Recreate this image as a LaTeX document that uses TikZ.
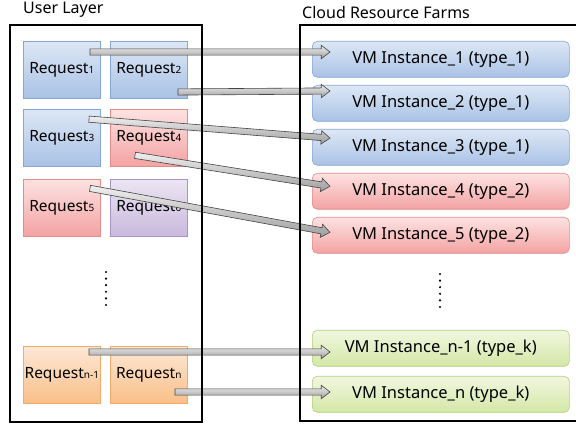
\documentclass[tikz,border=0pt]{standalone}
\usepackage{fontspec}
\setmainfont{Noto Sans}
\usetikzlibrary{shapes.arrows,calc}

\definecolor{bluetop}{HTML}{DDE7F5}
\definecolor{bluebot}{HTML}{A9C2E5}
\definecolor{blueline}{HTML}{86A6D6}
\definecolor{redtop}{HTML}{FDE2E2}
\definecolor{redbot}{HTML}{F4A2A2}
\definecolor{redline}{HTML}{E28C8C}
\definecolor{purptop}{HTML}{ECE5F3}
\definecolor{purpbot}{HTML}{C9B9DD}
\definecolor{purpline}{HTML}{A893C6}
\definecolor{orgtop}{HTML}{FDE8D6}
\definecolor{orgbot}{HTML}{F9BF88}
\definecolor{orgline}{HTML}{F2AB6B}
\definecolor{grntop}{HTML}{F1F7E0}
\definecolor{grnbot}{HTML}{D4E7A6}
\definecolor{grnline}{HTML}{B4CE7C}
\definecolor{arrline}{HTML}{444444}

\newcommand\sub[1]{{\fontsize{10}{10}\selectfont #1}}

% block arrow from one named point to another
\newcommand\blockarrow[2]{%
  \path let \p1=($(#2)-(#1)$), \n1={atan2(\y1,\x1)}, \n2={veclen(\x1,\y1)} in
    ($(#1)!0.5!(#2)$) node[flowarrow, rotate=\n1, minimum height=\n2] {};}

\tikzset{
  req/.style={rectangle, inner sep=0pt, minimum width=77pt, minimum height=57pt,
    anchor=north west, line width=0.6pt, font=\fontsize{15.5}{17}\selectfont},
  reqblue/.style={req, top color=bluetop, bottom color=bluebot, draw=blueline},
  reqred/.style={req, top color=redtop, bottom color=redbot, draw=redline},
  reqpurp/.style={req, top color=purptop, bottom color=purpbot, draw=purpline},
  reqorg/.style={req, top color=orgtop, bottom color=orgbot, draw=orgline},
  vm/.style={rectangle, rounded corners=5pt, inner sep=0pt, minimum width=257pt,
    minimum height=36pt, anchor=north west, line width=0.6pt,
    font=\fontsize{16.5}{18}\selectfont},
  vmblue/.style={vm, top color=bluetop, bottom color=bluebot, draw=blueline},
  vmred/.style={vm, top color=redtop, bottom color=redbot, draw=redline},
  vmgrn/.style={vm, top color=grntop, bottom color=grnbot, draw=grnline},
  flowarrow/.style={single arrow, inner xsep=0pt, inner ysep=2.8pt,
    single arrow head extend=3.6pt, single arrow head indent=0pt,
    single arrow tip angle=75, draw=arrline, line width=0.6pt,
    top color=black!6, bottom color=black!38},
  frame/.style={line width=1.5pt, black},
  dotcol/.style={fill=black},
  title/.style={anchor=west, inner sep=0pt, font=\fontsize{16}{18}\selectfont}
}

\begin{document}
\begin{tikzpicture}[x=1pt, y=-1pt]
\useasboundingbox (0,0) rectangle (576,427);

% titles
\node[title] (tuser) at (23,10) {User Layer};
\node[title] (tcloud) at (302,13) {Cloud Resource Farms};

% request boxes
\node[reqblue] (r1) at (23,41) {Request\sub{1}};
\node[reqblue] (r2) at (110,41) {Request\sub{2}};
\node[reqblue] (r3) at (23,109) {Request\sub{3}};
\node[reqred]  (r4) at (110,109) {Request\sub{4}};
\node[reqred]  (r5) at (23,179) {Request\sub{5}};
\node[reqpurp] (r6) at (110,179) {Request\sub{6}};
\node[reqorg]  (rn1) at (23,346) {Request\sub{n-1}};
\node[reqorg]  (rn) at (110,346) {Request\sub{n}};

% VM instances
\node[vmblue] (v1) at (312,41)  {VM Instance\_1 (type\_1)};
\node[vmblue] (v2) at (312,85)  {VM Instance\_2 (type\_1)};
\node[vmblue] (v3) at (312,129) {VM Instance\_3 (type\_1)};
\node[vmred]  (v4) at (312,173) {VM Instance\_4 (type\_2)};
\node[vmred]  (v5) at (312,217) {VM Instance\_5 (type\_2)};
\node[vmgrn]  (vn1) at (312,330) {VM Instance\_n-1 (type\_k)};
\node[vmgrn]  (vn) at (312,376) {VM Instance\_n (type\_k)};

% ellipsis dots
\foreach \i in {0,...,5} {
  \fill[dotcol] (106,272+6.6*\i) circle (1.2pt);
  \fill[dotcol] (440,274+6.6*\i) circle (1.2pt);
}

% arrow end points
\coordinate (s1) at (88,52);   \coordinate (e1) at (328,52);
\coordinate (s2) at (176,92);  \coordinate (e2) at (328,91);
\coordinate (s3) at (87,119);  \coordinate (e3) at (328,138);
\coordinate (s4) at (133,155); \coordinate (e4) at (328,186);
\coordinate (s5) at (88,188);  \coordinate (e5) at (328,232);
\coordinate (sn1) at (87,352); \coordinate (en1) at (328,352);
\coordinate (sn) at (173,392); \coordinate (en) at (328,392);

\blockarrow{s1}{e1}
\blockarrow{s2}{e2}
\blockarrow{s3}{e3}
\blockarrow{s4}{e4}
\blockarrow{s5}{e5}
\blockarrow{sn1}{en1}
\blockarrow{sn}{en}

% layer frames
\draw[frame] (10,25) rectangle (202,422);
\draw[frame] (580,25) -- (300,25) -- (300,421) -- (580,421);
\end{tikzpicture}
\end{document}
